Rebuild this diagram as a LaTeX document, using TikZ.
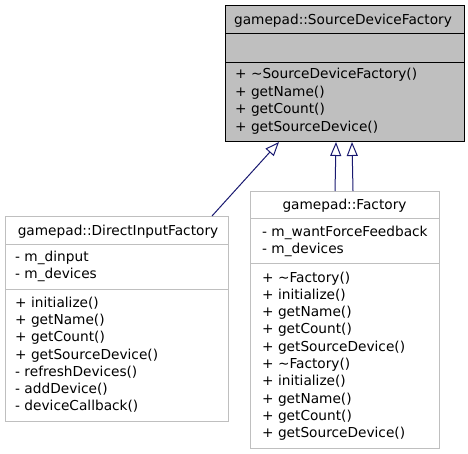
\documentclass[tikz,border=0pt]{standalone}
\usepackage{fontspec}
\setmainfont{DejaVu Sans}
\usetikzlibrary{arrows.meta,calc}
\definecolor{hdrgray}{HTML}{BFBFBF}
\definecolor{boxgray}{HTML}{BFBFBF}
\definecolor{edgeblue}{HTML}{191970}
\tikzset{
  umlbox/.style={draw=boxgray, fill=white, line width=1pt, inner sep=0pt, anchor=north west},
  hdrbox/.style={draw=black, fill=hdrgray, line width=1pt, inner sep=0pt, anchor=north west},
  txt/.style={inner sep=0pt, anchor=base west, font=\fontsize{13.7}{16}\selectfont},
  ttl/.style={inner sep=0pt, anchor=base, font=\fontsize{13.7}{16}\selectfont},
  inh/.style={draw=edgeblue, line width=1pt, -{Triangle[length=14pt, width=11pt, fill=white]}},
}
\begin{document}
\begin{tikzpicture}[x=1pt, y=-1pt]
\useasboundingbox (0,0) rectangle (468,453);
% base class
\node[hdrbox, minimum width=239pt, minimum height=136pt] (sdf) at (225,5) {};
\draw[black, line width=1pt] (225,33) -- (464,33) (225,62) -- (464,62);
\node[ttl] (sdft) at (343,24) {gamepad::SourceDeviceFactory};
\node[txt] (s1) at (235,78.5) {+ \textasciitilde SourceDeviceFactory()};
\node[txt] (s2) at (235,96) {+ getName()};
\node[txt] (s3) at (235,113.5) {+ getCount()};
\node[txt] (s4) at (235,131) {+ getSourceDevice()};
% DirectInputFactory
\node[umlbox, minimum width=223pt, minimum height=205pt] (dif) at (5,216) {};
\draw[boxgray, line width=1pt] (5,244) -- (228,244) (5,289) -- (228,289);
\node[ttl] (dift) at (118,235) {gamepad::DirectInputFactory};
\node[txt] (d1) at (15,261) {- m\_dinput};
\node[txt] (d2) at (15,278.5) {- m\_devices};
\node[txt] (d3) at (15,307.5) {+ initialize()};
\node[txt] (d4) at (15,324.7) {+ getName()};
\node[txt] (d5) at (15,341.9) {+ getCount()};
\node[txt] (d6) at (15,359.1) {+ getSourceDevice()};
\node[txt] (d7) at (15,376.3) {- refreshDevices()};
\node[txt] (d8) at (15,393.5) {- addDevice()};
\node[txt] (d9) at (15,410.7) {- deviceCallback()};
% Factory
\node[umlbox, minimum width=189pt, minimum height=257pt] (fac) at (250,191) {};
\draw[boxgray, line width=1pt] (250,218) -- (439,218) (250,263) -- (439,263);
\node[ttl] (fact) at (344.5,209) {gamepad::Factory};
\node[txt] (f1) at (262,236) {- m\_wantForceFeedback};
\node[txt] (f2) at (262,253) {- m\_devices};
\node[txt] (f3) at (262,282) {+ \textasciitilde Factory()};
\node[txt] (f4) at (262,299.3) {+ initialize()};
\node[txt] (f5) at (262,316.6) {+ getName()};
\node[txt] (f6) at (262,333.9) {+ getCount()};
\node[txt] (f7) at (262,351.2) {+ getSourceDevice()};
\node[txt] (f8) at (262,368.5) {+ \textasciitilde Factory()};
\node[txt] (f9) at (262,385.8) {+ initialize()};
\node[txt] (f10) at (262,403.1) {+ getName()};
\node[txt] (f11) at (262,420.4) {+ getCount()};
\node[txt] (f12) at (262,437.7) {+ getSourceDevice()};
% inheritance connectors
\draw[inh] ($(dif.north west)+(207,0)$) -- ($(sdf.south west)+(54,0)$);
\draw[inh] ($(fac.north west)+(85,0)$) -- ($(sdf.south west)+(111,0)$);
\draw[inh] ($(fac.north west)+(103,0)$) -- ($(sdf.south west)+(127,0)$);
\end{tikzpicture}
\end{document}
